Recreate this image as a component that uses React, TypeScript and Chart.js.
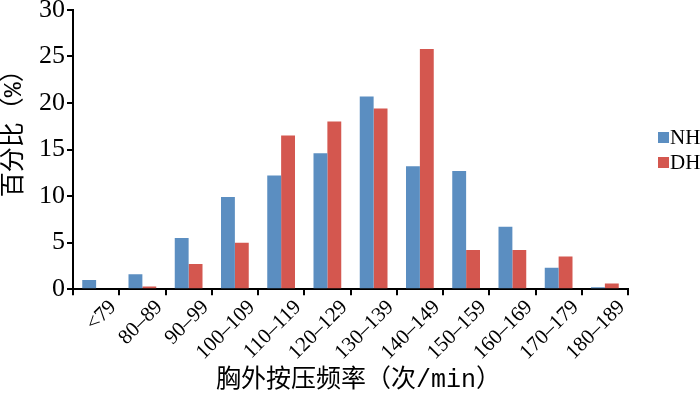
import React, { useEffect, useRef } from "react";
import { Chart, registerables } from "chart.js";

Chart.register(...registerables);

const categories = [
  "<79", "80–89", "90–99", "100–109", "110–119", "120–129",
  "130–139", "140–149", "150–159", "160–169", "170–179", "180–189",
];
const nhValues = [1.0, 1.6, 5.5, 9.9, 12.2, 14.6, 20.7, 13.2, 12.7, 6.7, 2.3, 0.2];
const dhValues = [0, 0.3, 2.7, 5.0, 16.5, 18.0, 19.4, 25.8, 4.2, 4.2, 3.5, 0.6];
const yTicks = [0, 5, 10, 15, 20, 25, 30];
const seriesNames = ["NH", "DH"];
const xTitle = "胸外按压频率（次/min）";
const yTitle = "百分比（%）";

const BLUE = "#5b8ec1";
const RED = "#d4574f";
const COLORS = [BLUE, RED];

const decorPlugin = {
  id: "decor",
  afterDraw(chart: any) {
    const ctx = chart.ctx;
    const { left, right, top, bottom } = chart.chartArea;
    ctx.save();
    ctx.fillStyle = "#000";
    ctx.textAlign = "center";
    ctx.textBaseline = "middle";
    // x axis title
    ctx.font = '25px "Liberation Mono", "Noto Sans CJK SC"';
    ctx.fillText(xTitle, (left + right) / 2 + 8, chart.height - 13);
    // y axis title
    ctx.save();
    ctx.translate(14, top + (bottom - top) * 0.42);
    ctx.rotate(-Math.PI / 2);
    ctx.font = '25px "Liberation Mono", "Noto Sans CJK SC"';
    ctx.fillText(yTitle, 0, 0);
    ctx.restore();
    // legend
    const midY = (top + bottom) / 2;
    const lx = right + 30;
    ctx.textAlign = "left";
    ctx.font = '21px "Liberation Serif"';
    seriesNames.forEach((name, i) => {
      const cy = midY - 12 + i * 25;
      ctx.fillStyle = COLORS[i];
      ctx.fillRect(lx, cy - 5.5, 11, 11);
      ctx.fillStyle = "#000";
      ctx.fillText(name, lx + 12, cy + 1);
    });
    ctx.restore();
  },
};

export default function App() {
  const ref = useRef<HTMLCanvasElement | null>(null);
  useEffect(() => {
    document.body.style.margin = "0";
    const canvas = ref.current;
    if (!canvas) return;
    const chart = new Chart(canvas, {
      type: "bar",
      data: {
        labels: categories,
        datasets: [
          { label: seriesNames[0], data: nhValues, backgroundColor: BLUE, barPercentage: 1.0, categoryPercentage: 0.6 },
          { label: seriesNames[1], data: dhValues, backgroundColor: RED, barPercentage: 1.0, categoryPercentage: 0.6 },
        ],
      },
      options: {
        animation: false,
        responsive: false,
        devicePixelRatio: 1,
        layout: { padding: { left: 37, bottom: 28, top: 0, right: 72 } },
        plugins: {
          legend: { display: false },
          tooltip: { enabled: false },
        },
        scales: {
          x: {
            grid: { display: true, drawOnChartArea: false, drawTicks: true, tickLength: 6, color: "#000", lineWidth: 2 },
            border: { display: true, color: "#000", width: 2 },
            ticks: {
              color: "#000",
              font: { family: "Liberation Serif", size: 21 },
              minRotation: 45,
              maxRotation: 45,
              padding: 0,
              labelOffset: 17,
            },
          },
          y: {
            min: 0,
            max: 30,
            afterBuildTicks: (axis: any) => {
              axis.ticks = yTicks.map((v) => ({ value: v }));
            },
            grid: { display: true, drawOnChartArea: false, drawTicks: true, tickLength: 6, color: "#000", lineWidth: 2 },
            border: { display: true, color: "#000", width: 2 },
            ticks: {
              color: "#000",
              font: { family: "Liberation Serif", size: 26, lineHeight: 0.6 },
              padding: 2,
            },
          },
        },
      },
      plugins: [decorPlugin],
    });
    return () => chart.destroy();
  }, []);
  return (
    <div style={{ width: 700, height: 393, background: "#fff" }}>
      <canvas ref={ref} width={700} height={393} style={{ display: "block" }} />
    </div>
  );
}
